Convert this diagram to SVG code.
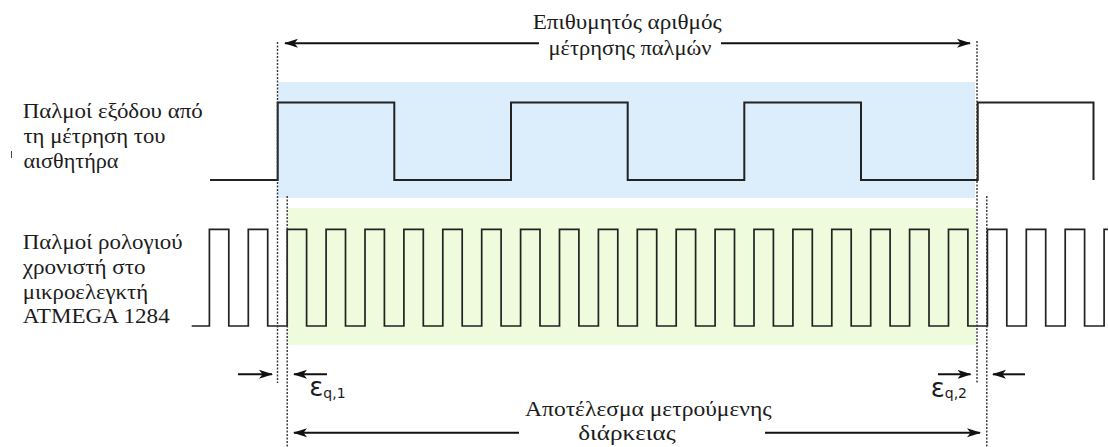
<svg xmlns="http://www.w3.org/2000/svg" width="1108" height="447" viewBox="0 0 1108 447">
  <style>
    .lbl { font-family: "Liberation Serif", "DejaVu Serif", "Times New Roman", serif; font-size: 22px; fill: #1c1c1c; }
    .eps { font-family: "DejaVu Sans", Verdana, sans-serif; fill: #1c1c1c; }
    .wave { fill: none; stroke: #222; stroke-linejoin: miter; }
    .dot { fill: none; stroke: #333; stroke-width: 1.4; stroke-dasharray: 2 1.5; }
    .arr { fill: none; stroke: #111; stroke-width: 2; }
  </style>
  <defs>
    <marker id="head" viewBox="0 0 14 10" refX="13" refY="5" markerWidth="14" markerHeight="10" markerUnits="userSpaceOnUse" orient="auto-start-reverse">
      <path d="M0,0.5 L14,5 L0,9.5 L3.5,5 Z" fill="#111"/>
    </marker>
  </defs>

  <rect width="1108" height="447" fill="#ffffff"/>

  <!-- shaded measurement windows -->
  <rect id="window-sensor" x="278" y="82" width="697" height="116" fill="#dcedfb"/>
  <rect id="window-clock" x="287" y="208" width="689" height="137" fill="#eefbdc"/>

  <!-- sensor output pulse train -->
  <g id="sensor-wave">
    <path class="wave" stroke-width="2" d="M210 180 H277.7 V102.5 H394.3 V180 H511 V102.5 H627.7 V180 H744.3 V102.5 H861 V180 H977.7 V102.5 H1093.5 V180"/>
  </g>

  <!-- timer clock pulse train (period 38.9) -->
  <g id="clock-wave">
    <path class="wave" stroke-width="1.7" d="M191.7 326 H209.4 V229.3 H228.8 V326 H248.3 V229.3 H267.7 V326 H287.2 V229.3 H306.6 V326 H326.1 V229.3 H345.5 V326 H365 V229.3 H384.4 V326 H403.9 V229.3 H423.3 V326 H442.8 V229.3 H462.2 V326 H481.7 V229.3 H501.1 V326 H520.6 V229.3 H540 V326 H559.5 V229.3 H578.9 V326 H598.4 V229.3 H617.8 V326 H637.3 V229.3 H656.7 V326 H676.2 V229.3 H695.6 V326 H715.1 V229.3 H734.5 V326 H754 V229.3 H773.4 V326 H792.9 V229.3 H812.3 V326 H831.8 V229.3 H851.2 V326 H870.7 V229.3 H890.1 V326 H909.6 V229.3 H929 V326 H948.5 V229.3 H967.9 V326 H987.4 V229.3 H1006.8 V326 H1026.3 V229.3 H1045.7 V326 H1065.2 V229.3 H1084.6 V326 H1104.1 V229.3 H1110"/>
  </g>

  <!-- reference lines and dimension arrows -->
  <g id="connectors">
    <line class="dot" x1="277.5" y1="42" x2="277.5" y2="383"/>
    <line class="dot" x1="287.2" y1="196" x2="287.2" y2="447"/>
    <line class="dot" x1="977" y1="41" x2="977" y2="383"/>
    <line class="dot" x1="986.8" y1="196" x2="986.8" y2="447"/>

    <line class="arr" x1="539" y1="43.3" x2="285" y2="43.3" marker-end="url(#head)"/>
    <line class="arr" x1="721" y1="43.3" x2="970" y2="43.3" marker-end="url(#head)"/>

    <line class="arr" x1="519" y1="432.7" x2="294" y2="432.7" marker-end="url(#head)"/>
    <line class="arr" x1="765" y1="432.7" x2="980" y2="432.7" marker-end="url(#head)"/>

    <line class="arr" x1="238" y1="374.3" x2="272" y2="374.3" marker-end="url(#head)"/>
    <line class="arr" x1="327" y1="374.3" x2="294" y2="374.3" marker-end="url(#head)"/>
    <line class="arr" x1="938" y1="374.3" x2="970.5" y2="374.3" marker-end="url(#head)"/>
    <line class="arr" x1="1025" y1="374.3" x2="993" y2="374.3" marker-end="url(#head)"/>
  </g>

  <!-- stray tick at left margin -->
  <line x1="11.5" y1="151" x2="11.5" y2="158" stroke="#444" stroke-width="1"/>

  <g id="label-target">
    <text class="lbl" x="627.2" y="28.5" text-anchor="middle" textLength="189" lengthAdjust="spacingAndGlyphs">Επιθυμητός αριθμός</text>
    <text class="lbl" x="630" y="55" text-anchor="middle" textLength="163" lengthAdjust="spacingAndGlyphs">μέτρησης παλμών</text>
  </g>

  <g id="label-sensor">
    <text class="lbl" x="22.7" y="117.5" textLength="180" lengthAdjust="spacingAndGlyphs">Παλμοί εξόδου από</text>
    <text class="lbl" x="23.5" y="142.5" textLength="142" lengthAdjust="spacingAndGlyphs">τη μέτρηση του</text>
    <text class="lbl" x="23.5" y="167.5" textLength="95" lengthAdjust="spacingAndGlyphs">αισθητήρα</text>
  </g>

  <g id="label-clock">
    <text class="lbl" x="22.7" y="249" textLength="160" lengthAdjust="spacingAndGlyphs">Παλμοί ρολογιού</text>
    <text class="lbl" x="22.7" y="274" textLength="123" lengthAdjust="spacingAndGlyphs">χρονιστή στο</text>
    <text class="lbl" x="22.7" y="298.5" textLength="125.5" lengthAdjust="spacingAndGlyphs">μικροελεγκτή</text>
    <text class="lbl" x="22.7" y="323.3" textLength="147" lengthAdjust="spacingAndGlyphs">ATMEGA 1284</text>
  </g>

  <g id="label-eq1">
    <text class="eps" x="309.3" y="396" font-size="26">ε<tspan font-size="14" dy="1.5">q,1</tspan></text>
  </g>
  <g id="label-eq2">
    <text class="eps" x="930.7" y="396.5" font-size="26">ε<tspan font-size="14" dy="1.5">q,2</tspan></text>
  </g>

  <g id="label-result">
    <text class="lbl" x="648.3" y="415.5" text-anchor="middle" textLength="246.5" lengthAdjust="spacingAndGlyphs">Αποτέλεσμα μετρούμενης</text>
    <text class="lbl" x="627" y="439.5" text-anchor="middle" textLength="97.5" lengthAdjust="spacingAndGlyphs">διάρκειας</text>
  </g>
</svg>
